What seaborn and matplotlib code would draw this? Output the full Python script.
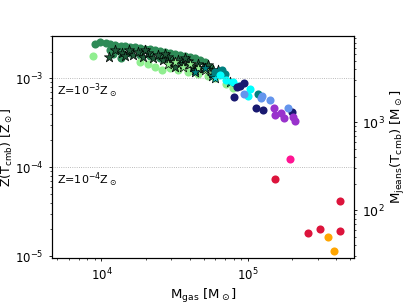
import numpy as np
import pandas as pd
import seaborn as sns
import matplotlib
matplotlib.use("Agg")
import matplotlib.pyplot as plt

# gas mass [Msun] and metallicity at T_cmb [Zsun], per halo group
seagreen_m = [9.1e3, 9.84e3, 1.065e4, 1.15e4, 1.245e4, 1.35e4, 1.457e4, 1.57e4, 1.70e4, 1.84e4,
              1.99e4, 2.15e4, 2.33e4, 2.52e4, 2.72e4, 2.94e4, 3.18e4, 3.44e4, 3.72e4, 4.03e4,
              4.36e4, 4.71e4, 1.15e4, 1.35e4, 1.57e4, 1.84e4, 2.15e4, 2.52e4, 2.94e4, 3.44e4,
              4.03e4, 1.35e4, 1.2e4, 5.10e4, 5.51e4, 2.72e4]
seagreen_z = [2.41e-3, 2.60e-3, 2.47e-3, 2.41e-3, 2.35e-3, 2.29e-3, 2.29e-3, 2.23e-3, 2.23e-3, 2.17e-3,
              2.12e-3, 2.12e-3, 2.07e-3, 2.01e-3, 1.96e-3, 1.91e-3, 1.86e-3, 1.81e-3, 1.77e-3, 1.72e-3,
              1.68e-3, 1.63e-3, 2.07e-3, 1.96e-3, 1.91e-3, 1.81e-3, 1.77e-3, 1.68e-3, 1.59e-3, 1.51e-3,
              1.44e-3, 1.68e-3, 1.86e-3, 1.51e-3, 1.36e-3, 1.68e-3]

lgreen_m = [8.8e3, 1.84e4, 2.09e4, 2.60e4, 2.33e4, 2.94e4, 3.34e4, 3.90e4, 4.56e4, 5.33e4,
            5.96e4, 7.9e4, 7.1e4]
lgreen_z = [1.77e-3, 1.51e-3, 1.44e-3, 1.23e-3, 1.36e-3, 1.30e-3, 1.23e-3, 1.17e-3, 1.11e-3, 1.05e-3,
            1.0e-3, 7.7e-4, 8.6e-4]

dstar_m = [1.12e4, 1.245e4, 1.39e4, 1.53e4, 1.65e4, 1.78e4, 1.93e4, 2.09e4, 2.26e4, 2.44e4,
           2.64e4, 2.86e4, 3.09e4, 3.34e4, 3.61e4, 3.90e4, 4.22e4, 4.56e4, 4.93e4, 5.33e4,
           5.77e4, 1.99e4, 2.72e4, 3.72e4, 1.457e4, 3.18e4, 4.36e4]
dstar_z = [1.72e-3, 2.07e-3, 1.91e-3, 2.07e-3, 1.81e-3, 1.96e-3, 1.72e-3, 1.91e-3, 1.68e-3, 1.81e-3,
           1.59e-3, 1.72e-3, 1.51e-3, 1.63e-3, 1.44e-3, 1.55e-3, 1.36e-3, 1.47e-3, 1.30e-3, 1.40e-3,
           1.23e-3, 2.07e-3, 1.86e-3, 1.68e-3, 1.77e-3, 1.36e-3, 1.23e-3]

lstar_m = [3.18e4, 3.61e4, 4.03e4, 4.56e4, 5.10e4, 5.65e4, 2.86e4]
lstar_z = [1.51e-3, 1.36e-3, 1.44e-3, 1.30e-3, 1.23e-3, 1.14e-3, 1.44e-3]

tstar_m = [4.36e4, 5.10e4, 5.65e4, 6.24e4]
tstar_z = [1.17e-3, 1.30e-3, 1.05e-3, 1.23e-3]

cstar_m = [5.95e4, 7.5e4]
cstar_z = [1.0e-3, 9.0e-4]

teal_m = [6.66e4, 7.0e4, 1.17e5, 5.96e4]
teal_z = [1.23e-3, 1.11e-3, 6.6e-4, 1.17e-3]

cyan_m = [6.4e4, 7.1e4, 7.9e4, 8.5e4, 1.03e5, 1.0e5]
cyan_z = [1.08e-3, 9.5e-4, 9.0e-4, 8.3e-4, 7.5e-4, 6.3e-4]

navy_m = [8.4e4, 8.8e4, 9.4e4, 8.0e4, 1.13e5, 1.27e5, 1.99e5]
navy_z = [7.9e-4, 8.3e-4, 8.8e-4, 6.1e-4, 4.7e-4, 4.37e-4, 4.15e-4]

cblue_m = [9.4e4, 1.25e5, 1.22e5, 1.41e5, 1.87e5]
cblue_z = [6.6e-4, 6.4e-4, 5.95e-4, 5.65e-4, 4.7e-4]

orchid_m = [1.5e5, 1.53e5, 1.67e5, 1.75e5, 2.02e5, 2.08e5]
orchid_z = [4.6e-4, 3.84e-4, 4.03e-4, 3.55e-4, 3.7e-4, 3.28e-4]

pink_m = [1.93e5]
pink_z = [1.23e-4]

crimson_m = [1.53e5, 4.23e5, 2.56e5, 3.09e5, 4.23e5]
crimson_z = [7.3e-5, 4.15e-5, 1.81e-5, 2.01e-5, 1.91e-5]

orange_m = [3.5e5, 3.85e5]
orange_z = [1.63e-5, 1.14e-5]

groups = [
    (seagreen_m, seagreen_z, "#2e8b57", "o"),
    (lgreen_m, lgreen_z, "#90ee90", "o"),
    (dstar_m, dstar_z, "#1f5c3a", "*"),
    (lstar_m, lstar_z, "#90ee90", "*"),
    (tstar_m, tstar_z, "#008080", "*"),
    (cstar_m, cstar_z, "#00e5ee", "*"),
    (teal_m, teal_z, "#008080", "o"),
    (cyan_m, cyan_z, "#00ffff", "o"),
    (navy_m, navy_z, "#191970", "o"),
    (cblue_m, cblue_z, "#6495ed", "o"),
    (orchid_m, orchid_z, "#9932cc", "o"),
    (pink_m, pink_z, "#ff1493", "o"),
    (crimson_m, crimson_z, "#dc143c", "o"),
    (orange_m, orange_z, "#ffa500", "o"),
]

fig = plt.figure(figsize=(4.07, 3.05), dpi=100)
ax = fig.add_axes([0.128, 0.154, 0.742, 0.728])

for m, z, col, mk in groups:
    df = pd.DataFrame({"mgas": m, "z": z})
    if mk == "*":
        sns.scatterplot(data=df, x="mgas", y="z", ax=ax, color=col, marker="*",
                        s=60, edgecolor="black", linewidth=0.5)
    else:
        sns.scatterplot(data=df, x="mgas", y="z", ax=ax, color=col, marker="o",
                        s=34, linewidth=0)

ax.set_xscale("log")
ax.set_yscale("log")
ax.set_xlim(4.6e3, 5.3e5)
ax.set_ylim(9.5e-6, 3.0e-3)

for zl, txt in [(1e-3, r"Z=10$^{-3}$Z$_\odot$"), (1e-4, r"Z=10$^{-4}$Z$_\odot$")]:
    ax.axhline(zl, color="gray", lw=0.6, ls=":", alpha=0.7)
    ax.text(5.0e3, zl * 0.92, txt, fontsize=8, va="top", ha="left")

ax.set_xlabel(r"M$_{\rm gas}$ [M$_\odot$]", fontsize=9.5, labelpad=3)
ax.set_ylabel(r"Z(T$_{\rm cmb}$) [Z$_\odot$]", fontsize=9, labelpad=0)
ax.tick_params(labelsize=8.5, length=2.5, width=0.6)
ax.tick_params(which="minor", length=1.5, width=0.5)

ax2 = ax.twinx()
ax2.set_yscale("log")
ax2.set_ylim(28.5, 9.5e3)
ax2.set_ylabel(r"M$_{\rm jeans}$(T$_{\rm cmb}$) [M$_\odot$]", fontsize=9.5, labelpad=3)
ax2.tick_params(labelsize=9, length=2.5, width=0.6)
ax2.tick_params(which="minor", length=1.5, width=0.5)

fig.savefig("out.png", dpi=100)
